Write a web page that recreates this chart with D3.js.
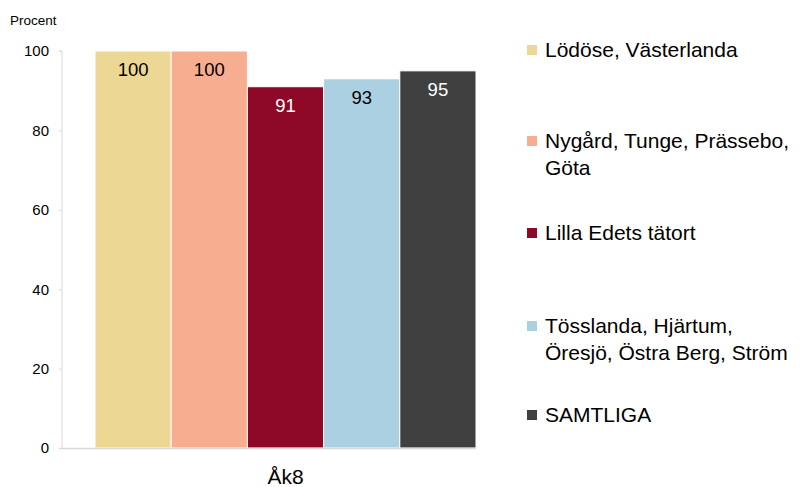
<!DOCTYPE html>
<html>
<head>
<meta charset="utf-8">
<script src="https://cdn.jsdelivr.net/npm/d3@7"></script>
<style>
	body { margin: 0; background: #fff; }
	svg { font-family: "Liberation Sans", Arial, sans-serif; }
</style>
</head>
<body>
<svg id="chart" width="805" height="487"></svg>
<script>
const categories = ['Åk8'];
const seriesNames = [
	['Lödöse, Västerlanda'],
	['Nygård, Tunge, Prässebo,', 'Göta'],
	['Lilla Edets tätort'],
	['Tösslanda, Hjärtum,', 'Öresjö, Östra Berg, Ström'],
	['SAMTLIGA']
];
const seriesValues = [100, 100, 91, 93, 95];
const seriesColors = ['#edd795', '#f7ae90', '#8c0826', '#abd0e1', '#404040'];
const labelColors = ['#000', '#000', '#fff', '#000', '#fff'];
const yTicks = [0, 20, 40, 60, 80, 100];

const svg = d3.select('#chart');
const plot = {x1: 62, x2: 509, y1: 51, y2: 448};

const y = d3.scaleLinear().domain([0, 100]).range([plot.y2, plot.y1]);
const x0 = d3.scaleBand().domain(categories).range([plot.x1, plot.x2]).paddingInner(0).paddingOuter(0.0866);
const x1 = d3.scaleBand().domain(d3.range(seriesValues.length)).range([0, x0.bandwidth()]).padding(0);

// y axis
const yAxis = svg.append('g')
	.attr('transform', 'translate(' + plot.x1 + ',0)')
	.call(d3.axisLeft(y).tickValues(yTicks).tickSize(3).tickPadding(10));
yAxis.select('.domain').attr('stroke', '#d9d9d9').attr('d', 'M-3,' + plot.y1 + 'H0V' + plot.y2);
yAxis.selectAll('.tick line').attr('stroke', '#d9d9d9');
yAxis.selectAll('.tick text').attr('font-size', 15).attr('fill', '#000');

svg.append('text')
	.attr('x', 10).attr('y', 25)
	.attr('font-size', 13.5)
	.text('Procent');

// bars
const gCat = svg.selectAll('.g_cat')
	.data(categories).enter()
	.append('g')
	.attr('class', 'g_cat')
	.attr('transform', d => 'translate(' + x0(d) + ',0)');

gCat.selectAll('rect')
	.data(seriesValues).enter()
	.append('rect')
	.attr('x', (d, i) => x1(i))
	.attr('y', d => y(d))
	.attr('width', x1.bandwidth())
	.attr('height', d => y(0) - y(d))
	.attr('fill', (d, i) => seriesColors[i])
	.attr('stroke', '#fff')
	.attr('stroke-width', 1);

gCat.selectAll('.val')
	.data(seriesValues).enter()
	.append('text')
	.attr('class', 'val')
	.attr('x', (d, i) => x1(i) + x1.bandwidth() / 2)
	.attr('y', d => y(d) + 25)
	.attr('text-anchor', 'middle')
	.attr('font-size', 18.5)
	.attr('fill', (d, i) => labelColors[i])
	.text(d => d);

// baseline
svg.append('line')
	.attr('x1', plot.x1 - 3).attr('x2', x0(categories[0]) + x0.bandwidth())
	.attr('y1', plot.y2 + 0.5).attr('y2', plot.y2 + 0.5)
	.attr('stroke', '#d9d9d9').attr('stroke-width', 1.5);

// category label
svg.append('text')
	.attr('x', x0(categories[0]) + x0.bandwidth() / 2)
	.attr('y', 484)
	.attr('text-anchor', 'middle')
	.attr('font-size', 21)
	.text(categories[0]);

// legend
const legendY = [49, 140, 232, 325, 414];
const lg = svg.selectAll('.lg')
	.data(seriesNames).enter()
	.append('g')
	.attr('class', 'lg')
	.attr('transform', (d, i) => 'translate(527,' + legendY[i] + ')');

lg.append('rect')
	.attr('x', 0).attr('y', -4)
	.attr('width', 10).attr('height', 10)
	.attr('fill', (d, i) => seriesColors[i]);

lg.each(function(lines) {
	const t = d3.select(this).append('text')
		.attr('font-size', 21)
		.attr('x', 18).attr('y', 8);
	lines.forEach((ln, j) => {
		t.append('tspan').attr('x', 18).attr('dy', j ? 27 : 0).text(ln);
	});
});
</script>
</body>
</html>
